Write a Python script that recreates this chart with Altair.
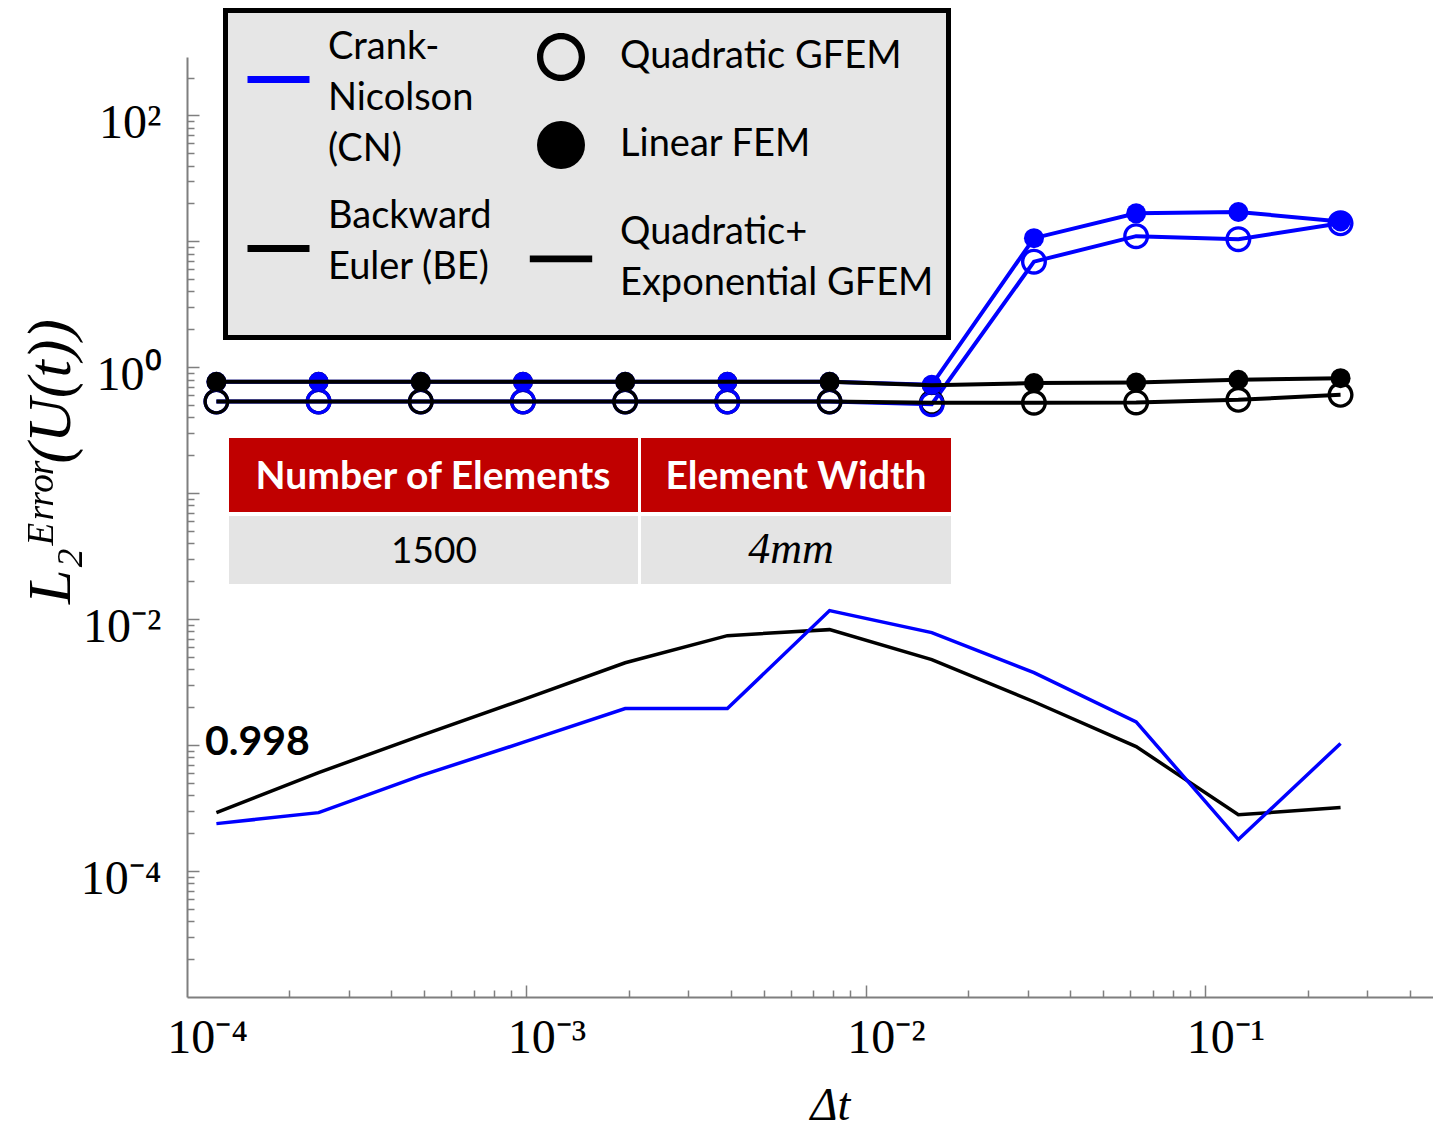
import altair as alt
import pandas as pd

# ---------------- data ----------------
DT = [0.0001220703125, 0.000244140625, 0.00048828125, 0.0009765625,
      0.001953125, 0.00390625, 0.0078125, 0.015625,
      0.03125, 0.0625, 0.125, 0.25]

SCHEMES = ["Crank-Nicolson (CN)", "Backward Euler (BE)"]
SCHEME_LINES = [["Crank-", "Nicolson", "(CN)"], ["Backward", "Euler (BE)"]]
METHODS = ["Quadratic GFEM", "Linear FEM", "Quadratic+ Exponential GFEM"]
METHOD_LINES = [["Quadratic GFEM"], ["Linear FEM"], ["Quadratic+", "Exponential GFEM"]]

CN_LINEAR = [0.767, 0.767, 0.767, 0.767, 0.767, 0.767, 0.767, 0.726, 10.6, 16.7, 17.1, 14.4]
CN_QUAD = [0.535, 0.535, 0.535, 0.535, 0.535, 0.535, 0.535, 0.51, 6.9, 11.0, 10.4, 13.9]
BE_LINEAR = [0.767, 0.767, 0.767, 0.767, 0.767, 0.767, 0.767, 0.72, 0.75, 0.757, 0.796, 0.82]
BE_QUAD = [0.535, 0.535, 0.535, 0.535, 0.535, 0.535, 0.535, 0.523, 0.523, 0.526, 0.552, 0.605]
CN_QEXP = [2.38e-4, 2.91e-4, 5.73e-4, 1.05e-3, 1.95e-3, 1.95e-3, 1.17e-2, 7.82e-3,
           3.76e-3, 1.53e-3, 1.78e-4, 1.03e-3]
BE_QEXP = [2.91e-4, 6.05e-4, 1.19e-3, 2.30e-3, 4.51e-3, 7.40e-3, 8.26e-3, 4.77e-3,
           2.21e-3, 9.73e-4, 2.80e-4, 3.19e-4]

X_TICKS = [1e-4, 1e-3, 1e-2, 1e-1]
X_TICK_LABELS = ["10⁻⁴", "10⁻³", "10⁻²", "10⁻¹"]
Y_TICKS = [1e-4, 1e-2, 1.0, 100.0]
Y_TICK_LABELS = ["10⁻⁴", "10⁻²", "10⁰", "10²"]
X_MAJOR = [1e-3, 1e-2, 1e-1]
X_MINOR = [m * 10.0 ** e for e in (-4, -3, -2) for m in range(2, 10)] + [0.2, 0.3, 0.4]
Y_MAJOR = [1e-4, 1e-3, 1e-2, 1e-1, 1.0, 10.0, 100.0]
Y_MINOR = [m * 10.0 ** e for e in range(-5, 2) for m in range(2, 10)] + [200.0]

TABLE_HEAD = ["Number of Elements", "Element Width"]
TABLE_ROW = ["1500", "4mm"]
SLOPE_LABEL = ["0.998"]
X_TITLE = "Δt"
Y_TITLE = "L₂ᴱʳʳᵒʳ(U(t))"

# ---------------- tables ----------------
series = [
    (SCHEMES[0], METHODS[1], CN_LINEAR), (SCHEMES[0], METHODS[0], CN_QUAD),
    (SCHEMES[1], METHODS[1], BE_LINEAR), (SCHEMES[1], METHODS[0], BE_QUAD),
    (SCHEMES[1], METHODS[2], BE_QEXP), (SCHEMES[0], METHODS[2], CN_QEXP),
]
rows = []
for scheme, method, vals in series:
    for i, (d, v) in enumerate(zip(DT, vals)):
        top = 1 if ((scheme == SCHEMES[0]) == (i % 2 == 1)) else 0
        rows.append(dict(dt=d, err=v, scheme=scheme, method=method, idx=i, z=top))
df = pd.DataFrame(rows)

cn_upper = df[(df.scheme == SCHEMES[0]) & (df.method != METHODS[2])]
be_upper = df[(df.scheme == SCHEMES[1]) & (df.method != METHODS[2])]
qexp = df[df.method == METHODS[2]]
open_pts = df[df.method == METHODS[0]]
filled_pts = df[df.method == METHODS[1]]


def js(s):
    return "'" + s.replace("'", "\\'") + "'"


def label_expr(values, labels):
    expr = "''"
    for v, l in reversed(list(zip(values, labels))):
        expr = f"abs(datum.value - {v!r}) < {v!r} * 0.01 ? {js(l)} : ({expr})"
    return expr


def lines_expr(names, lines):
    expr = "datum.label"
    for n, ls in reversed(list(zip(names, lines))):
        arr = "[" + ", ".join(js(x) for x in ls) + "]"
        expr = f"datum.label == {js(n)} ? {arr} : ({expr})"
    return expr


SERIF = "Liberation Serif"
SANS = "Lato"
GRAY = "#7f7f7f"
BLUE = "#0000ff"

# legend / marker symbols (unit paths, scaled by the symbol size)
RING = ("M1,0A1,1,0,1,1,-1,0A1,1,0,1,1,1,0Z"
        "M0.74,0A0.74,0.74,0,1,0,-0.74,0A0.74,0.74,0,1,0,0.74,0Z")
BAR = "M-1.3,0.94H1.3V1.22H-1.3Z"
STROKE_SYM = "M-1,1.03L1,1.03"

x_scale = alt.Scale(type="log", domain=[1e-4, 0.468])
y_scale = alt.Scale(type="log", domain=[1e-5, 291])
scheme_scale = alt.Scale(domain=SCHEMES, range=[BLUE, "#000000"])
shape_scale = alt.Scale(domain=METHODS, range=[RING, "circle", BAR])

legend_scheme = alt.Legend(
    title=None, orient="none", legendX=57, legendY=-44, padding=0,
    symbolType=STROKE_SYM, symbolSize=3844, symbolStrokeWidth=7,
    labelFont=SANS, labelFontSize=38, labelColor="black", labelOffset=15,
    labelLimit=800, rowPadding=13, labelExpr=lines_expr(SCHEMES, SCHEME_LINES),
)
legend_method = alt.Legend(
    title=None, orient="none", legendX=350, legendY=-24, padding=0,
    symbolSize=2304, symbolFillColor="black", symbolStrokeWidth=0, symbolOpacity=1,
    labelFont=SANS, labelFontSize=38, labelColor="black", labelOffset=35,
    labelLimit=800, rowPadding=40, labelExpr=lines_expr(METHODS, METHOD_LINES),
)

ax_x_main = alt.Axis(
    orient="bottom", values=X_TICKS, labelExpr=label_expr(X_TICKS, X_TICK_LABELS),
    ticks=False, grid=False, domainColor=GRAY, domainWidth=2,
    labelFont=SERIF, labelFontSize=48, labelColor="black", labelPadding=17,
    labelOffset=20, labelFlush=False, labelOverlap=False,
    title=X_TITLE, titleFont=SERIF, titleFontSize=46, titleFontStyle="italic",
    titleFontWeight="normal", titleColor="black", titleX=643, titleY=122,
    titleBaseline="alphabetic", titleAlign="center",
)
ax_y_main = alt.Axis(
    orient="left", values=Y_TICKS, labelExpr=label_expr(Y_TICKS, Y_TICK_LABELS),
    ticks=False, grid=False, domainColor=GRAY, domainWidth=2,
    labelFont=SERIF, labelFontSize=48, labelColor="black", labelPadding=26,
    labelOffset=8, labelFlush=False, labelOverlap=False,
    title=Y_TITLE, titleFont=SERIF, titleFontSize=62, titleFontStyle="italic",
    titleFontWeight="normal", titleColor="black", titleX=-118, titleY=404,
    titleAngle=270, titleBaseline="alphabetic", titleAlign="center",
)


def tick_axis(orient, values, size):
    return alt.Axis(orient=orient, values=values, labels=False, domain=False,
                    ticks=True, tickSize=size, tickColor=GRAY, tickWidth=1.5,
                    offset=-size, title=None, grid=False)


def xy(ax, ay):
    return dict(x=alt.X("dt:Q", scale=x_scale, axis=ax),
                y=alt.Y("err:Q", scale=y_scale, axis=ay))


stroke_enc = alt.Stroke("scheme:N", scale=scheme_scale, legend=legend_scheme)

cn_lines = alt.Chart(cn_upper).mark_line(strokeWidth=4).encode(
    **xy(ax_x_main, ax_y_main), stroke=stroke_enc, detail="method:N")
qe_lines = alt.Chart(qexp).mark_line(strokeWidth=3.5).encode(
    **xy(tick_axis("bottom", X_MAJOR, 12), tick_axis("left", Y_MAJOR, 12)),
    stroke=stroke_enc, detail="method:N")
be_lines = alt.Chart(be_upper).mark_line(strokeWidth=4).encode(
    **xy(tick_axis("bottom", X_MINOR, 7), tick_axis("left", Y_MINOR, 7)),
    stroke=stroke_enc, detail="method:N")


def points(data, size):
    return alt.Chart(data).mark_point(filled=True, size=size, strokeWidth=0, opacity=1).encode(
        **xy(None, None),
        shape=alt.Shape("method:N", scale=shape_scale, legend=legend_method),
        fill=alt.Fill("scheme:N", scale=scheme_scale, legend=None),
        order=alt.Order("z:Q"),
    )


open_layer = points(open_pts, 676)
filled_layer = points(filled_pts, 400)

one = pd.DataFrame({"k": [0]})
legend_box = alt.Chart(one).mark_rect(fill="#e6e6e6", stroke="black", strokeWidth=5).encode(
    x=alt.value(38.5), x2=alt.value(761.5), y=alt.value(-46.5), y2=alt.value(280.5))

head_l = alt.Chart(one).mark_rect(fill="#c00000").encode(
    x=alt.value(42), x2=alt.value(451), y=alt.value(381), y2=alt.value(455))
head_r = alt.Chart(one).mark_rect(fill="#c00000").encode(
    x=alt.value(454), x2=alt.value(764), y=alt.value(381), y2=alt.value(455))
cell_l = alt.Chart(one).mark_rect(fill="#e4e4e4").encode(
    x=alt.value(42), x2=alt.value(451), y=alt.value(459), y2=alt.value(527))
cell_r = alt.Chart(one).mark_rect(fill="#e4e4e4").encode(
    x=alt.value(454), x2=alt.value(764), y=alt.value(459), y2=alt.value(527))

head_t1 = alt.Chart(pd.DataFrame({"t": [TABLE_HEAD[0]]})).mark_text(
    font=SANS, fontSize=39, fontWeight="bold", color="white").encode(
    x=alt.value(246), y=alt.value(420), text="t:N")
head_t2 = alt.Chart(pd.DataFrame({"t": [TABLE_HEAD[1]]})).mark_text(
    font=SANS, fontSize=39, fontWeight="bold", color="white").encode(
    x=alt.value(609), y=alt.value(420), text="t:N")
row_t1 = alt.Chart(pd.DataFrame({"t": [TABLE_ROW[0]]})).mark_text(
    font=SANS, fontSize=37, color="black").encode(
    x=alt.value(247), y=alt.value(495), text="t:N")
row_t2 = alt.Chart(pd.DataFrame({"t": [TABLE_ROW[1]]})).mark_text(
    font=SERIF, fontSize=44, fontStyle="italic", color="black").encode(
    x=alt.value(604), y=alt.value(493), text="t:N")
slope_t = alt.Chart(pd.DataFrame({"t": SLOPE_LABEL})).mark_text(
    font=SANS, fontSize=41, fontWeight="bold", color="black", align="left").encode(
    x=alt.value(18), y=alt.value(686), text="t:N")

chart = alt.layer(
    legend_box, cn_lines, qe_lines, open_layer, filled_layer, be_lines,
    head_l, head_r, cell_l, cell_r, head_t1, head_t2, row_t1, row_t2, slope_t,
).resolve_axis(x="independent", y="independent").properties(
    width=1246, height=940,
    autosize=alt.AutoSizeParams(type="none"),
    padding={"left": 187, "top": 57, "right": 0, "bottom": 132},
    background="white",
).configure(
    view={"stroke": "transparent"},
    style={"guide-label": {"lineHeight": 51}},
)

chart.save("out.html", embed_options={"renderer": "svg", "actions": False})
